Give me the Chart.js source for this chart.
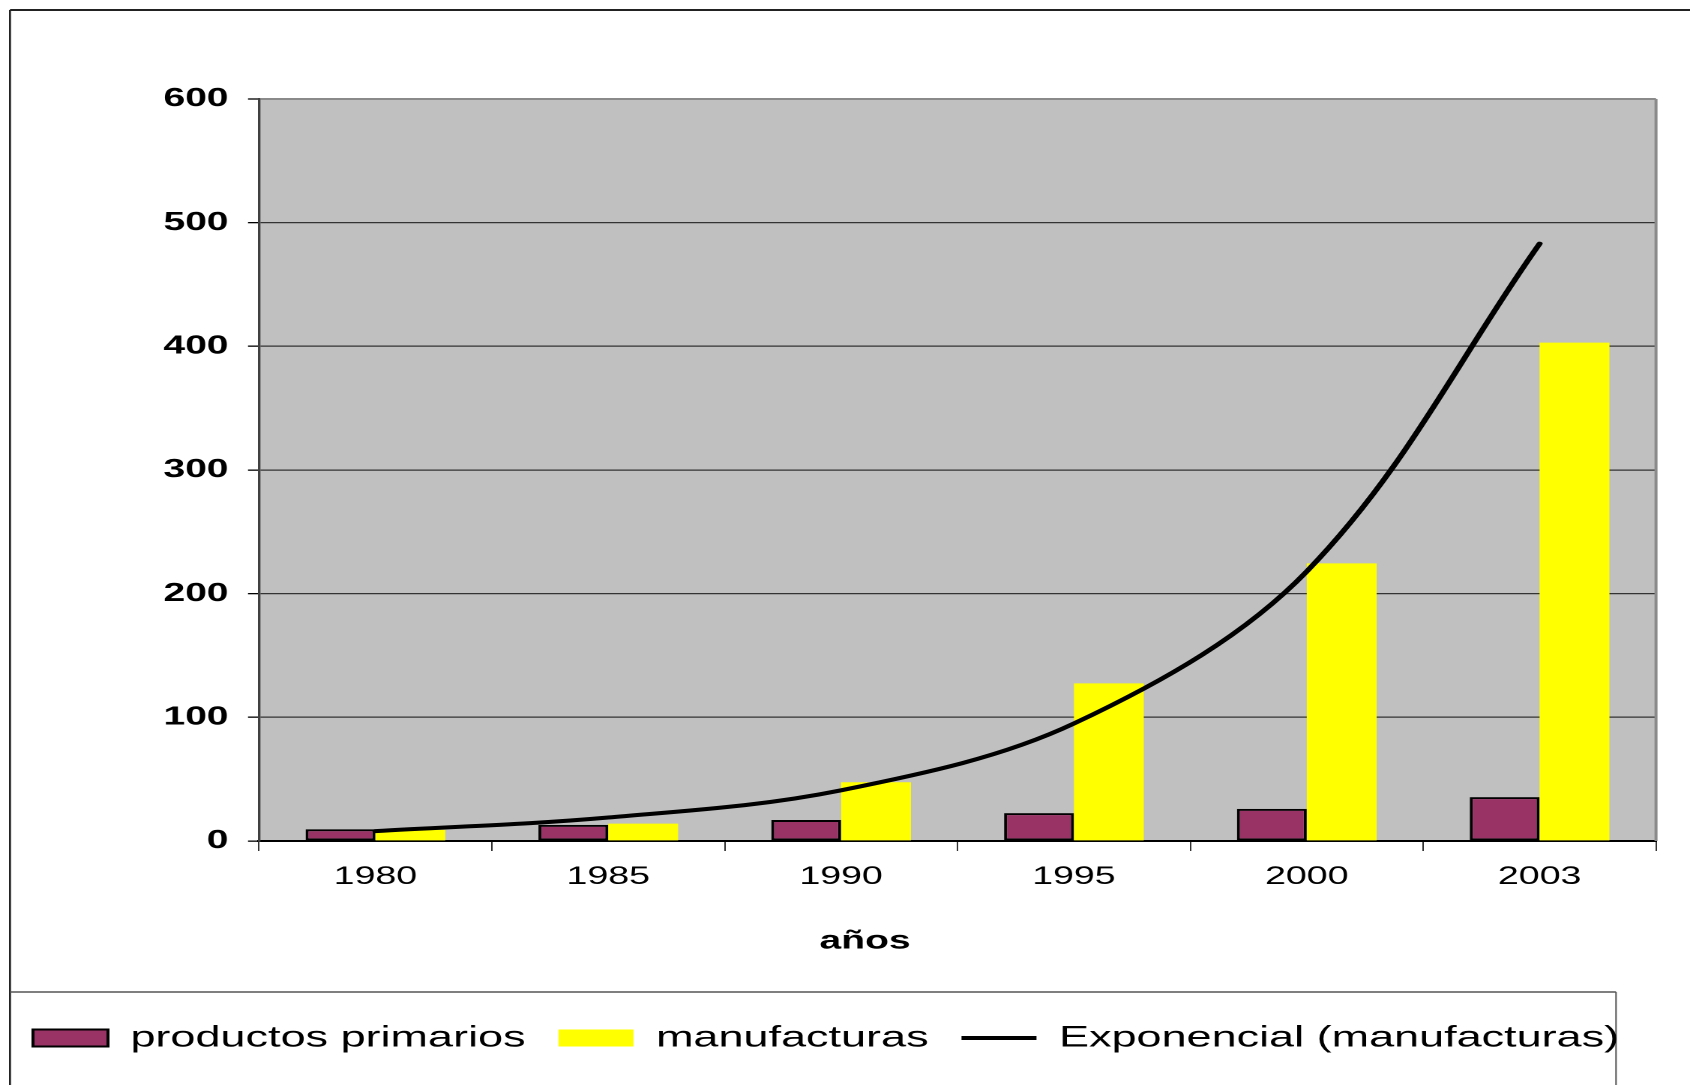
<!DOCTYPE html>
<html>
<head>
<meta charset="utf-8">
<title>productos primarios y manufacturas</title>
<script src="https://cdn.jsdelivr.net/npm/chart.js@4.4.0/dist/chart.umd.min.js"></script>
<style>
  html, body { margin: 0; padding: 0; background: #fff; overflow: hidden; }
  /* the original picture is stretched sideways, so the chart is drawn narrow and widened */
  #wrap { position: absolute; left: 0; top: 0; width: 1127px; height: 1085px;
          transform-origin: 0 0; transform: scaleX(1.49956); }
</style>
</head>
<body>
<div id="wrap"><canvas id="myChart"></canvas></div>
<script>
var years = ["1980", "1985", "1990", "1995", "2000", "2003"];
var primarios = [9.5, 13, 17, 22.5, 26, 35.5];
var manufacturas = [9, 14, 47.5, 127.5, 224.5, 403];
var tendencia = [8, 19, 41, 95, 218, 483];   // Exponencial (manufacturas), read at each year
var yTicks = [0, 100, 200, 300, 400, 500, 600];

var SX = 1690 / 1127;
function px(x) { return x / SX; }   // page pixels -> chart pixels (horizontal only)

Chart.defaults.font.family = "'Liberation Sans', Arial, sans-serif";
Chart.defaults.color = "#000";

var marco = {
  id: 'marco',
  beforeDraw: function(chart) {
    var ctx = chart.ctx, a = chart.chartArea;
    ctx.save();
    ctx.fillStyle = '#fff';
    ctx.fillRect(0, 0, chart.width, chart.height);
    // outer frame
    ctx.strokeStyle = '#222';
    ctx.lineWidth = 2;
    ctx.beginPath(); ctx.moveTo(px(10), 10); ctx.lineTo(chart.width, 10); ctx.stroke();
    ctx.lineWidth = px(2);
    ctx.beginPath(); ctx.moveTo(px(10), 10); ctx.lineTo(px(10), chart.height); ctx.stroke();
    // legend box
    ctx.strokeStyle = '#555';
    ctx.lineWidth = 1.5;
    ctx.beginPath(); ctx.moveTo(px(10), 992); ctx.lineTo(px(1616), 992); ctx.stroke();
    ctx.lineWidth = px(1.5);
    ctx.beginPath(); ctx.moveTo(px(1616), 992); ctx.lineTo(px(1616), chart.height); ctx.stroke();
    // plot area
    ctx.fillStyle = '#c0c0c0';
    ctx.fillRect(a.left, a.top, a.right - a.left, a.bottom - a.top);
    ctx.restore();
  },
  afterDraw: function(chart) {
    var ctx = chart.ctx, a = chart.chartArea;
    ctx.save();
    ctx.strokeStyle = '#8a8a8a';
    ctx.lineWidth = px(3);
    ctx.beginPath(); ctx.moveTo(a.right, a.top); ctx.lineTo(a.right, a.bottom); ctx.stroke();
    // axis title
    ctx.font = "bold 26px 'Liberation Sans', Arial, sans-serif";
    ctx.fillStyle = '#000';
    ctx.textAlign = 'center';
    ctx.textBaseline = 'middle';
    ctx.fillText('años', px(865), 941.5);
    ctx.restore();
  }
};

new Chart(document.getElementById('myChart'), {
  type: 'bar',
  data: {
    labels: years,
    datasets: [
      {
        label: 'productos primarios',
        data: primarios,
        backgroundColor: '#993366',
        borderColor: '#000',
        borderWidth: 2,
        borderSkipped: false,
        pointStyle: 'rect',
        order: 1
      },
      {
        label: 'manufacturas',
        data: manufacturas,
        backgroundColor: '#ffff00',
        borderWidth: 0,
        pointStyle: 'rect',
        order: 1
      },
      {
        type: 'line',
        label: 'Exponencial (manufacturas)',
        data: tendencia,
        borderColor: '#000',
        backgroundColor: '#000',
        borderWidth: 4,
        borderCapStyle: 'round',
        pointRadius: 0,
        tension: 0.35,
        fill: false,
        pointStyle: 'line',
        order: 0
      }
    ]
  },
  options: {
    responsive: true,
    maintainAspectRatio: false,
    animation: false,
    devicePixelRatio: 2,
    datasets: { bar: { categoryPercentage: 0.6, barPercentage: 1 } },
    layout: { padding: { top: 99, right: 1127 - px(1656), left: 0, bottom: 22 } },
    plugins: {
      tooltip: { enabled: false },
      legend: {
        position: 'bottom',
        align: 'start',
        labels: {
          usePointStyle: true,
          pointStyleWidth: 50,
          boxHeight: 17,
          padding: 22,
          color: '#000',
          font: { size: 30 },
          sort: function(a, b) { return a.datasetIndex - b.datasetIndex; }
        }
      }
    },
    scales: {
      x: {
        grid: { drawOnChartArea: false, drawTicks: true, tickLength: 10, tickColor: '#333', lineWidth: 1, offset: true },
        border: { color: '#000', width: 2 },
        ticks: { font: { size: 25 }, padding: 11, color: '#000' },
        afterFit: function(s) { s.height = 160; }
      },
      y: {
        min: yTicks[0],
        max: yTicks[yTicks.length - 1],
        ticks: { stepSize: 100, padding: 13, color: '#000', font: { size: 26, weight: 'bold' } },
        grid: {
          color: function(c) { return c.tick && c.tick.value === 600 ? '#8a8a8a' : '#333'; },
          lineWidth: function(c) { return c.tick && c.tick.value === 600 ? 2 : 1.3; },
          tickLength: px(11),
          tickColor: '#000',
          tickWidth: 1.3
        },
        border: { color: '#404040', width: px(2.5) },
        afterFit: function(s) { s.width = px(259); }
      }
    }
  },
  plugins: [marco]
});
</script>
</body>
</html>
